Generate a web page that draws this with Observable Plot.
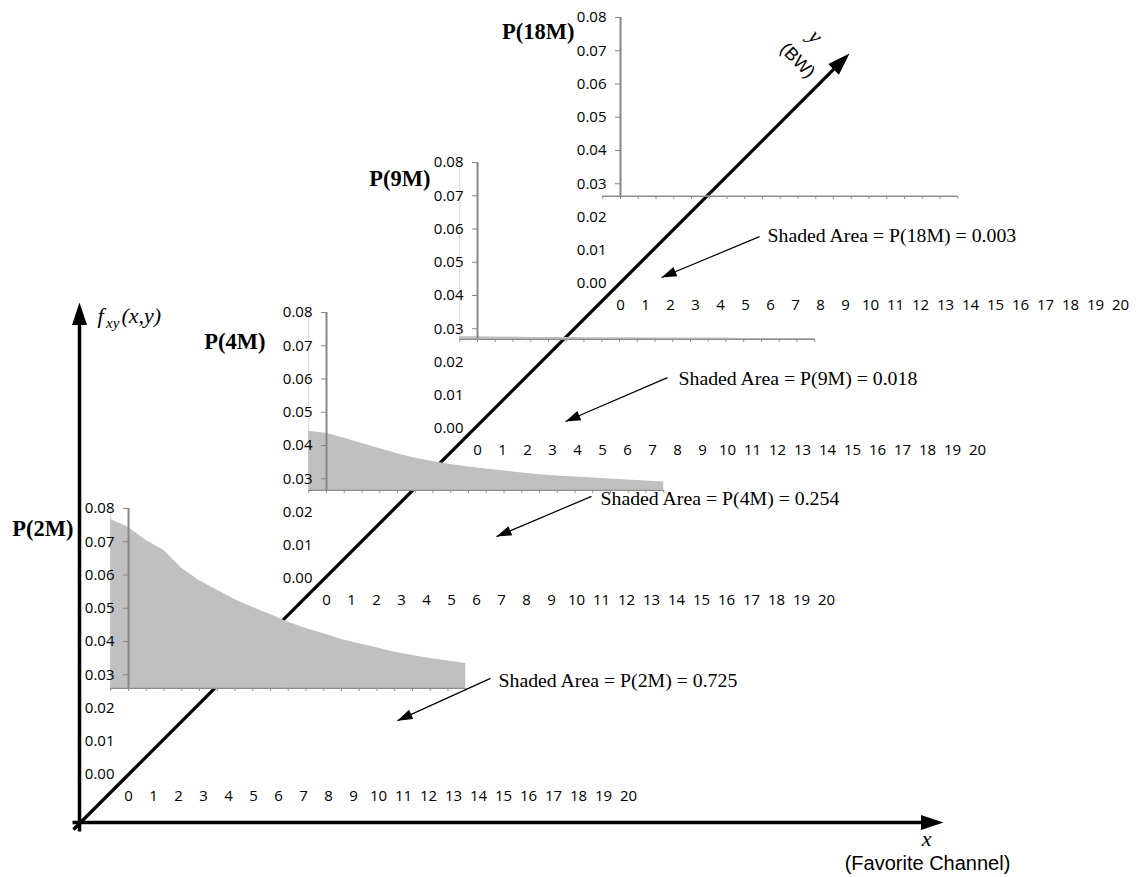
<!DOCTYPE html>
<html lang="en">
<head>
<meta charset="utf-8">
<title>Shaded area of f(x,y) by bandwidth</title>
<script src="https://cdn.jsdelivr.net/npm/d3@7"></script>
<script src="https://cdn.jsdelivr.net/npm/@observablehq/plot@0.6"></script>
<style>
  html, body { margin: 0; padding: 0; background: #fff; }
  #figure { position: relative; width: 1136px; height: 877px; overflow: hidden; background: #fff; }
  #figure > svg { position: absolute; display: block; max-width: none; overflow: visible; background: transparent; }
</style>
</head>
<body>
<div id="figure"></div>
<script>
// ---------- data ----------
const bandwidths = ["2M", "4M", "9M", "18M"];
const shadedArea = [0.725, 0.254, 0.018, 0.003];
const channels = [0, 1, 2, 3, 4, 5, 6, 7, 8, 9, 10, 11, 12, 13, 14, 15, 16, 17, 18, 19, 20];
const densityTicks = [0.00, 0.01, 0.02, 0.03, 0.04, 0.05, 0.06, 0.07, 0.08];

// joint density f(x, y) along the favourite-channel axis, one series per bandwidth
const density2M = [0.0767, 0.0743, 0.0704, 0.0674, 0.0620, 0.0583, 0.0554, 0.0526, 0.0502, 0.0481, 0.0458,
                   0.0439, 0.0423, 0.0406, 0.0393, 0.0381, 0.0368, 0.0358, 0.0349, 0.0341, 0.0334];
const density4M = [0.0443, 0.0437, 0.0422, 0.0406, 0.0390, 0.0375, 0.0362, 0.0352, 0.0343, 0.0335, 0.0329,
                   0.0323, 0.0317, 0.0312, 0.0308, 0.0305, 0.0302, 0.0299, 0.0296, 0.0293, 0.0290];
const density9M = [0.0276, 0.0276, 0.0275, 0.0275, 0.0274, 0.0274, 0.0274, 0.0273, 0.0273, 0.0273, 0.0273,
                   0.0272, 0.0272, 0.0272, 0.0272, 0.0272, 0.0271, 0.0271, 0.0271, 0.0271, 0.0271];
const density18M = [0.0263, 0.0263, 0.0263, 0.0263, 0.0263, 0.0263, 0.0263, 0.0263, 0.0263, 0.0263, 0.0263,
                    0.0263, 0.0263, 0.0263, 0.0263, 0.0263, 0.0263, 0.0263, 0.0263, 0.0263, 0.0263];
const densities = [density2M, density4M, density9M, density18M];

const densityAxisTitle = ["f", "xy", "(x,y)"];
const channelAxisTitle = ["x", "(Favorite Channel)"];
const bandwidthAxisTitle = ["y", "(BW)"];

// ---------- layout ----------
const SERIF = "'Liberation Serif', 'Times New Roman', serif";
const SANS = "'Liberation Sans', Arial, sans-serif";
const TICK_FONT = "'Open Sans', sans-serif";

const CH = 25;        // px per channel on each panel's label axis
const INNER = 17.75;  // px per category of the shaded inset chart
const DEN = 3325;     // px per unit of density
const DENSITY_MAX = densityTicks[densityTicks.length - 1];

// each panel sits on the BW axis; annotation/title positions are in the panel's own units
const panelLayout = [
  {origin: [128, 774], floor: 0.0259, edge: true,  title: [-2.2, 0.0716],
   note: {at: [14.8, 0.0262], from: [14.48, 0.0289], to: [10.76, 0.0162]}},
  {origin: [326, 578], floor: 0.0265, edge: true,  title: [-2.44, 0.0689],
   note: {at: [10.96, 0.0220], from: [10.6, 0.0247], to: [6.8, 0.0126]}},
  {origin: [477, 428], floor: 0.0268, edge: true,  title: [-1.88, 0.0728],
   note: {at: [8.04, 0.0132], from: [7.6, 0.0153], to: [3.52, 0.0021]}},
  {origin: [620, 283], floor: 0.0262, edge: false, title: [-1.84, 0.0734],
   note: {at: [5.88, 0.0126], from: [5.56, 0.0141], to: [1.64, 0.0018]}}
];

// the schematic 3-D frame, in page pixels
const frameArrows = [
  {from: [79, 831], to: [79, 302], width: 3.5},   // f_xy(x,y)
  {from: [72, 822], to: [943, 822], width: 3.5},  // x (favourite channel)
  {from: [73, 829], to: [849, 53], width: 3.3}    // y (bandwidth)
];
const BIG_HEAD = {length: 22.5, half: 7.5};
const NOTE_HEAD = {length: 15, half: 5};
const titleLayout = {
  f: [97, 322], sub: [105.5, 327], args: [121, 322],
  x: [926, 845], xName: [927, 869],
  y: [815, 36], yName: [797, 60]
};

// filled triangular arrowhead whose tip sits at the dot position
function headSymbol(angle, length, half) {
  const c = Math.cos(angle), s = Math.sin(angle);
  return {
    draw(context) {
      context.moveTo(0, 0);
      context.lineTo(-length * c - half * s, -length * s + half * c);
      context.lineTo(-length * c + half * s, -length * s - half * c);
      context.closePath();
    }
  };
}

const figure = document.getElementById("figure");
function place(svg, left, top) {
  svg.style.left = left + "px";
  svg.style.top = top + "px";
  figure.appendChild(svg);
}

// ---------- frame: three axes and their titles ----------
const frameMarks = frameArrows.map((a) => {
  const ang = Math.atan2(a.to[1] - a.from[1], a.to[0] - a.from[0]);
  const stop = [a.to[0] - 0.5 * BIG_HEAD.length * Math.cos(ang), a.to[1] - 0.5 * BIG_HEAD.length * Math.sin(ang)];
  return [
    Plot.link([a], {x1: (d) => d.from[0], y1: (d) => d.from[1], x2: () => stop[0], y2: () => stop[1],
                    stroke: "black", strokeWidth: a.width}),
    Plot.dot([a], {x: (d) => d.to[0], y: (d) => d.to[1], symbol: headSymbol(ang, BIG_HEAD.length, BIG_HEAD.half),
                   fill: "black", stroke: "none"})
  ];
});

const serifItalic = {fontFamily: SERIF, fontStyle: "italic", lineAnchor: "bottom", fill: "black"};
const background = Plot.plot({
  width: 1136, height: 877, margin: 0,
  x: {type: "identity", axis: null}, y: {type: "identity", axis: null},
  style: {background: "transparent", overflow: "visible"},
  marks: [
    frameMarks,
    Plot.text([densityAxisTitle[0]], {...serifItalic, x: titleLayout.f[0], y: titleLayout.f[1], text: (d) => d, textAnchor: "start", fontSize: 22}),
    Plot.text([densityAxisTitle[1]], {...serifItalic, x: titleLayout.sub[0], y: titleLayout.sub[1], text: (d) => d, textAnchor: "start", fontSize: 15}),
    Plot.text([densityAxisTitle[2]], {...serifItalic, x: titleLayout.args[0], y: titleLayout.args[1], text: (d) => d, textAnchor: "start", fontSize: 22}),
    Plot.text([channelAxisTitle[0]], {...serifItalic, x: titleLayout.x[0], y: titleLayout.x[1], text: (d) => d, textAnchor: "middle", fontSize: 22}),
    Plot.text([channelAxisTitle[1]], {x: titleLayout.xName[0], y: titleLayout.xName[1], text: (d) => d, textAnchor: "middle",
                                      lineAnchor: "bottom", fontFamily: SANS, fontSize: 20, fill: "black"}),
    Plot.text([bandwidthAxisTitle[0]], {x: titleLayout.y[0], y: titleLayout.y[1], text: (d) => d, rotate: 45,
                                        fontFamily: SERIF, fontStyle: "italic", fontSize: 22, fill: "black"}),
    Plot.text([bandwidthAxisTitle[1]], {x: titleLayout.yName[0], y: titleLayout.yName[1], text: (d) => d, rotate: 45,
                                        fontFamily: SANS, fontSize: 18, fill: "black"})
  ]
});
place(background, 0, 0);

// ---------- panels: shaded inset chart of the density ----------
function insetChart(p, values) {
  const [ox, oy] = p.origin;
  const m = {left: 24, right: 4, top: 6, bottom: 8};
  const fw = (channels.length - 2) * INNER;   // frame spans categories 1..20
  const fh = (DENSITY_MAX - p.floor) * DEN;
  const rows = channels.map((c, i) => ({channel: c, density: values[i]}));
  const first = channels[0], last = channels[channels.length - 1];
  const svg = Plot.plot({
    width: fw + m.left + m.right, height: fh + m.top + m.bottom,
    marginLeft: m.left, marginRight: m.right, marginTop: m.top, marginBottom: m.bottom,
    x: {domain: [channels[1], last]}, y: {domain: [p.floor, DENSITY_MAX]},
    style: {background: "transparent", overflow: "visible"},
    marks: [
      p.edge ? Plot.ruleX([first], {y1: p.floor, y2: DENSITY_MAX, stroke: "#d4d4d4", strokeWidth: 1}) : null,
      Plot.areaY(rows, {x: "channel", y1: p.floor, y2: "density", fill: "#c0c0c0"}),
      Plot.ruleY([p.floor], {x1: first, x2: last, stroke: "#8c8c8c", strokeWidth: 1.4}),
      Plot.axisX(channels, {anchor: "bottom", tickSize: 3, stroke: "#8c8c8c", fill: "none", label: null}),
      Plot.axisY(densityTicks.filter((t) => t > p.floor), {anchor: "left", tickSize: 5, stroke: "#868686", fill: "none", label: null}),
      Plot.ruleX([channels[1]], {y1: p.floor, y2: DENSITY_MAX, stroke: "#868686", strokeWidth: 2})
    ]
  });
  place(svg, ox - m.left, oy - DENSITY_MAX * DEN - m.top);
}

// ---------- panels: tick labels, titles and annotations ----------
function labelChart(p, k) {
  const [ox, oy] = p.origin;
  const m = {left: 60, right: 12, top: 10, bottom: 32};
  const xDom = [-0.44, 20.6], yDom = [-0.0038, DENSITY_MAX];
  const fw = (xDom[1] - xDom[0]) * CH, fh = (yDom[1] - yDom[0]) * DEN;
  const n = p.note;
  const ang = Math.atan2(-(n.to[1] - n.from[1]) * DEN, (n.to[0] - n.from[0]) * CH);
  const noteText = `Shaded Area = P(${bandwidths[k]}) = ${shadedArea[k].toFixed(3)}`;
  const svg = Plot.plot({
    width: fw + m.left + m.right, height: fh + m.top + m.bottom,
    marginLeft: m.left, marginRight: m.right, marginTop: m.top, marginBottom: m.bottom,
    x: {domain: xDom}, y: {domain: yDom},
    style: {background: "transparent", overflow: "visible", fontFamily: TICK_FONT, fontSize: "15px", color: "black"},
    marks: [
      Plot.axisY(densityTicks, {anchor: "left", tickSize: 0, tickPadding: 3, tickFormat: d3.format(".2f"), label: null}),
      Plot.axisX(channels, {anchor: "bottom", tickSize: 0, tickPadding: 3, tickFormat: d3.format("d"), label: null}),
      Plot.text([`P(${bandwidths[k]})`], {x: p.title[0], y: p.title[1], text: (d) => d, textAnchor: "end", lineAnchor: "bottom",
                                          fontFamily: SERIF, fontWeight: "bold", fontSize: 22.5}),
      Plot.link([n], {x1: (d) => d.from[0], y1: (d) => d.from[1], x2: (d) => d.to[0], y2: (d) => d.to[1],
                      stroke: "black", strokeWidth: 1.2}),
      Plot.dot([n], {x: (d) => d.to[0], y: (d) => d.to[1], symbol: headSymbol(ang, NOTE_HEAD.length, NOTE_HEAD.half),
                     fill: "black", stroke: "none"}),
      Plot.text([noteText], {x: n.at[0], y: n.at[1], text: (d) => d, textAnchor: "start", lineAnchor: "bottom",
                             fontFamily: SERIF, fontSize: 19.8})
    ]
  });
  place(svg, ox + xDom[0] * CH - m.left, oy - yDom[1] * DEN - m.top);
}

// shaded insets cover the BW axis; tick labels and notes stay readable above them
panelLayout.forEach((p, k) => insetChart(p, densities[k]));
panelLayout.forEach((p, k) => labelChart(p, k));
</script>
</body>
</html>
